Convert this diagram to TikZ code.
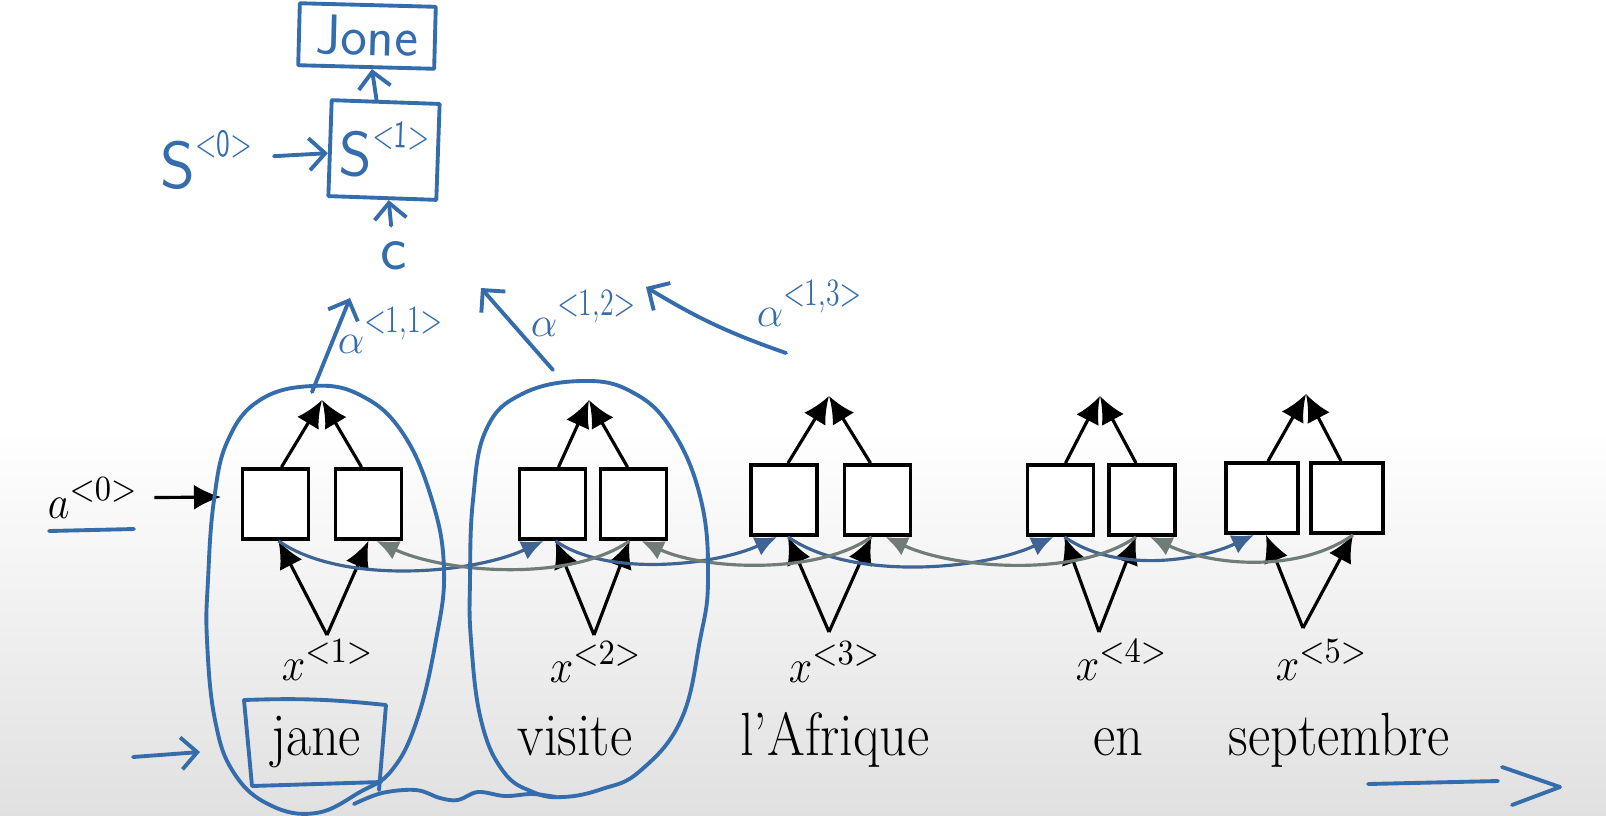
\documentclass[tikz,border=0pt]{standalone}
\usepackage{graphicx}
\usepackage{tikz}
\usetikzlibrary{arrows.meta,calc,positioning}

\definecolor{penblue}{RGB}{52,108,172}
\definecolor{fwdblue}{RGB}{62,100,148}
\definecolor{bwdgray}{RGB}{112,124,120}

\newcommand{\hwsup}[1]{\raisebox{1.1ex}{\scalebox{0.72}[1]{\fontsize{11}{11}\selectfont$<$#1$>$}}}
\newcommand{\tall}[1]{\scalebox{1}[1.12]{#1}}

\tikzset{
  cell/.style={draw=black,line width=1.1pt,fill=white,minimum width=6.6mm,minimum height=7mm,inner sep=0pt},
  wire/.style={line width=0.9pt,-{Latex[length=2.7mm,width=2.5mm]}},
  fwd/.style={draw=fwdblue,line width=0.9pt,-{Latex[length=2.2mm,width=2mm]}},
  bwd/.style={draw=bwdgray,line width=0.9pt,-{Latex[length=2.2mm,width=2mm]}},
  pen/.style={draw=penblue,line width=1.1pt,line cap=round,line join=round},
  penarrow/.style={pen,-{Straight Barb[length=1.6mm,width=3.2mm]}},
  penbox/.style={pen,inner sep=0pt,text=penblue},
  pentext/.style={text=penblue,inner sep=1pt,font=\sffamily},
  xlab/.style={font=\fontsize{12.5}{14}\selectfont,inner sep=1pt},
  word/.style={anchor=base,font=\fontsize{15.5}{18}\selectfont,inner sep=1pt},
}

\begin{document}
\begin{tikzpicture}[x=0.1mm,y=-0.1mm,>=Latex]
  \useasboundingbox (0,0) rectangle (1606,815);
  \fill[white] (0,0) rectangle (1606,815);
  \shade[top color=white,bottom color=black!12] (0,430) rectangle (1606,815);

  % bidirectional encoder cells
  \node[cell] (a1) at (275.5,504) {};
  \node[cell] (b1) at (368.5,504) {};
  \node[cell] (a2) at (552.5,504) {};
  \node[cell] (b2) at (633.5,504) {};
  \node[cell] (a3) at (784,500) {};
  \node[cell] (b3) at (877.5,500) {};
  \node[cell] (a4) at (1060.5,500) {};
  \node[cell] (b4) at (1142,500) {};
  \node[cell,minimum width=7.2mm] (a5) at (1262,498) {};
  \node[cell,minimum width=7.2mm] (b5) at (1347,498) {};

  % outputs
  \coordinate (o1) at (322,400);
  \coordinate (o2) at (589,400);
  \coordinate (o3) at (829,396);
  \coordinate (o4) at (1100,396);
  \coordinate (o5) at (1306,394);
  \draw[wire] ([xshift=0.6mm]a1.north) -- (o1);
  \draw[wire] ([xshift=-0.7mm]b1.north) -- (o1);
  \draw[wire] ([xshift=0.6mm]a2.north) -- (o2);
  \draw[wire] ([xshift=-0.6mm]b2.north) -- (o2);
  \draw[wire] ([xshift=0.4mm]a3.north) -- (o3);
  \draw[wire] ([xshift=-0.7mm]b3.north) -- (o3);
  \draw[wire] ([xshift=0.5mm]a4.north) -- (o4);
  \draw[wire] ([xshift=-0.6mm]b4.north) -- (o4);
  \draw[wire] ([xshift=0.6mm]a5.north) -- (o5);
  \draw[wire] ([xshift=-0.6mm]b5.north) -- (o5);

  % inputs
  \coordinate (i1) at (327,635);
  \coordinate (i2) at (594,635);
  \coordinate (i3) at (829,632);
  \coordinate (i4) at (1099,632);
  \coordinate (i5) at (1303,628);
  \draw[wire] (i1) -- ([xshift=0.3mm]a1.south);
  \draw[wire] (i1) -- (b1.south);
  \draw[wire] (i2) -- ([xshift=0.3mm]a2.south);
  \draw[wire] (i2) -- ([xshift=-0.4mm]b2.south);
  \draw[wire] (i3) -- ([xshift=0.4mm]a3.south);
  \draw[wire] (i3) -- ([xshift=-0.6mm]b3.south);
  \draw[wire] (i4) -- ([xshift=0.4mm]a4.south);
  \draw[wire] (i4) -- ([xshift=-0.6mm]b4.south);
  \draw[wire] (i5) -- ([xshift=0.4mm]a5.south);
  \draw[wire] (i5) -- ([xshift=0.6mm]b5.south);

  % forward and backward recurrences
  \draw[fwd] ([xshift=0.3mm]a1.south) to[out=-35,in=-155,looseness=0.75] ([xshift=-0.9mm]a2.south);
  \draw[fwd] ([xshift=0.3mm]a2.south) to[out=-35,in=-155,looseness=0.75] ([xshift=-0.7mm]a3.south);
  \draw[fwd] ([xshift=0.4mm]a3.south) to[out=-35,in=-155,looseness=0.75] ([xshift=-0.7mm]a4.south);
  \draw[fwd] ([xshift=0.4mm]a4.south) to[out=-35,in=-155,looseness=0.85] ([xshift=-0.8mm]a5.south);
  \draw[bwd] ([xshift=-0.4mm]b2.south) to[out=-145,in=-25,looseness=0.75] ([xshift=0.8mm]b1.south);
  \draw[bwd] ([xshift=-0.6mm]b3.south) to[out=-145,in=-25,looseness=0.75] ([xshift=0.8mm]b2.south);
  \draw[bwd] ([xshift=-0.6mm]b4.south) to[out=-145,in=-25,looseness=0.75] ([xshift=0.8mm]b3.south);
  \draw[bwd] ([xshift=0.6mm]b5.south) to[out=-145,in=-25,looseness=0.85] ([xshift=0.8mm]b4.south);

  % labels
  \node[xlab] (a0) at (93,498) {\tall{$a^{<0>}$}};
  \coordinate (a0in) at (221,497);
  \draw[wire,shorten <=1.2mm] (a0) -- (a0in);
  \node[xlab] (x1) at (328,660) {\tall{$x^{<1>}$}};
  \node[xlab] (x2) at (596,662) {\tall{$x^{<2>}$}};
  \node[xlab] (x3) at (835,662) {\tall{$x^{<3>}$}};
  \node[xlab] (x4) at (1122,660) {\tall{$x^{<4>}$}};
  \node[xlab] (x5) at (1322,660) {\tall{$x^{<5>}$}};
  \node[word] (w1) at (316,755) {\tall{jane}};
  \node[word] (w2) at (575,755) {\tall{visite}};
  \node[word] (w3) at (835,755) {\tall{l’Afrique}};
  \node[word] (w4) at (1118,755) {\tall{en}};
  \node[word] (w5) at (1339,755) {\tall{septembre}};

  % handwritten decoder step
  \node[penbox,minimum width=13.6mm,minimum height=6.2mm,rotate=-1.5,font=\fontsize{16}{16}\selectfont\sffamily] (jone) at (367,36) {Jone};
  \node[penbox,minimum width=10.8mm,minimum height=9.6mm,rotate=-2,font=\fontsize{18}{18}\selectfont\sffamily] (s1) at (384,150) {S\hwsup{1}};
  \node[pentext,font=\fontsize{19}{19}\selectfont\sffamily] (s0) at (206,160) {S\hwsup{0}};
  \node[pentext,font=\fontsize{18}{18}\selectfont\sffamily] (ctx) at (394,256) {c};
  \draw[penarrow] (s1) -- (jone);
  \draw[penarrow,shorten <=1.8mm] (s0) -- (s1);
  \draw[penarrow,shorten <=1.2mm] (ctx) -- (s1);

  % attention weights
  \coordinate (al1s) at (312,392);
  \coordinate (al1e) at (350,298);
  \coordinate (al2s) at (553,370);
  \coordinate (al2e) at (481,288);
  \coordinate (al3s) at (786,353);
  \coordinate (al3e) at (646,287);
  \draw[penarrow] (al1s) -- (al1e);
  \draw[penarrow] (al2s) -- (al2e);
  \draw[penarrow] (al3s) to[bend left=6] (al3e);
  \node[pentext,font=\fontsize{13}{13}\selectfont] (al1) at (390,330) {$\alpha$\hwsup{1,1}};
  \node[pentext,font=\fontsize{13}{13}\selectfont] (al2) at (583,313) {$\alpha$\hwsup{1,2}};
  \node[pentext,font=\fontsize{13}{13}\selectfont] (al3) at (809,303) {$\alpha$\hwsup{1,3}};

  % handwritten annotations
  \draw[pen] plot[smooth cycle,tension=0.7] coordinates {(312,386) (260,400) (228,440) (214,500) (208,580) (207,640) (215,720) (234,773) (270,805) (316,813) (360,792) (392,770) (417,720) (436,640) (444,570) (432,500) (402,432) (360,395)};
  \draw[pen] plot[smooth cycle,tension=0.7] coordinates {(582,381) (522,394) (486,430) (473,500) (470,580) (471,640) (481,720) (503,771) (533,792) (563,797) (602,789) (640,771) (681,720) (700,640) (708,580) (701,500) (672,430) (632,392)};
  \draw[pen] plot[smooth,tension=0.6] coordinates {(354,804) (382,793) (416,790) (440,798) (458,800) (478,792) (505,796) (532,794) (556,797)};
  \draw[pen] (244,700) to[bend left=4] (386,705) -- (379,790);
  \draw[pen] (244,700) -- (252,786) -- (381,782);
  \draw[pen] (49,531) -- (134,529);
  \draw[penarrow] (133,757) -- (200,752);
  \draw[pen] (1368,784) -- (1498,781);
  \draw[pen] (1502,767) -- (1560,787) -- (1512,805);
\end{tikzpicture}
\end{document}
